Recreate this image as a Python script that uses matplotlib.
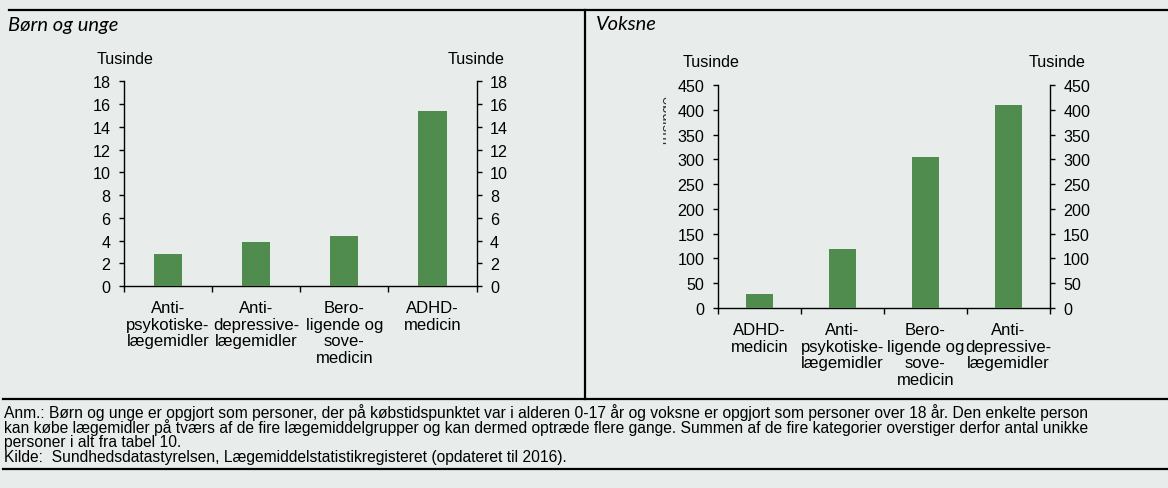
"""Personer der køber psykofarmaka, børn og unge vs. voksne (tusinde)."""

import matplotlib

matplotlib.use("Agg")
import matplotlib.pyplot as plt
from matplotlib.lines import Line2D
from matplotlib.transforms import Bbox, TransformedBbox

plt.rcParams["font.family"] = ["Liberation Sans", "DejaVu Sans"]

W, H = 1168, 489
BG = "#e8edeb"
BAR = "#508c4e"

BORN_LABELS = [
    "Anti-\npsykotiske-\nlægemidler",
    "Anti-\ndepressive-\nlægemidler",
    "Bero-\nligende og\nsove-\nmedicin",
    "ADHD-\nmedicin",
]
BORN_VALUES = [2.85, 3.85, 4.4, 15.4]
BORN_TICKS = [0, 2, 4, 6, 8, 10, 12, 14, 16, 18]

VOKSNE_LABELS = [
    "ADHD-\nmedicin",
    "Anti-\npsykotiske-\nlægemidler",
    "Bero-\nligende og\nsove-\nmedicin",
    "Anti-\ndepressive-\nlægemidler",
]
VOKSNE_VALUES = [29, 120, 305, 410]
VOKSNE_TICKS = [0, 50, 100, 150, 200, 250, 300, 350, 400, 450]

FOOTNOTE = [
    "Anm.: Børn og unge er opgjort som personer, der på købstidspunktet var i alderen "
    "0-17 år og voksne er opgjort som personer over 18 år. Den enkelte person",
    "kan købe lægemidler på tværs af de fire lægemiddelgrupper og kan dermed optræde "
    "flere gange. Summen af de fire kategorier overstiger derfor antal unikke",
    "personer i alt fra tabel 10.",
    "Kilde:  Sundhedsdatastyrelsen, Lægemiddelstatistikregisteret (opdateret til 2016).",
]

FS = 11.6


def fx(x):
    return x / W


def fy(y):
    return 1 - y / H


def panel(fig, box, labels, values, ticks):
    x0, y0, x1, y1 = box
    ax = fig.add_axes([fx(x0), fy(y1), fx(x1) - fx(x0), fy(y0) - fy(y1)])
    ax.set_facecolor("none")
    pos = range(len(values))
    ax.bar(pos, values, width=0.32, color=BAR, zorder=3)
    ax.set_xlim(-0.5, len(values) - 0.5)
    ax.set_ylim(ticks[0], ticks[-1])
    ax.set_yticks(ticks)
    ax.set_xticks([i - 0.5 for i in range(len(values) + 1)])
    ax.set_xticklabels([])
    ax.set_xticks(list(pos), labels, minor=True)
    ax.tick_params(axis="x", which="minor", length=0, pad=10, labelsize=12)
    ax.tick_params(axis="x", which="major", length=4.5, width=1, direction="out")
    ax.tick_params(axis="y", left=True, right=True, labelleft=True, labelright=True,
                   length=3.5, width=1, pad=6, labelsize=FS, direction="out")
    for lab in ax.get_xticklabels(minor=True):
        lab.set_linespacing(1.15)
    ax.spines["top"].set_visible(False)
    for s in ("left", "right", "bottom"):
        ax.spines[s].set_linewidth(1.0)
    return ax


fig = plt.figure(figsize=(W / 100, H / 100), dpi=100, facecolor=BG)

panel(fig, (123.7, 82.3, 476.7, 287), BORN_LABELS, BORN_VALUES, BORN_TICKS)
panel(fig, (717.7, 86, 1050, 309), VOKSNE_LABELS, VOKSNE_VALUES, VOKSNE_TICKS)

# enhedstekster over akserne
for x, y in [(124.7, 59), (475.9, 59), (711.5, 62.3), (1057.5, 62.3)]:
    fig.text(fx(x), fy(y), "Tusinde", ha="center", va="center", fontsize=FS)

# rester af en skjult akseetiket i højre panel
ghost = fig.text(fx(668), fy(121), "Tusinde", rotation=90, ha="center",
                 va="center", fontsize=10.5, color="#333333")
ghost.set_clip_box(TransformedBbox(Bbox([[fx(662.5), fy(150)], [fx(666), fy(92)]]),
                                   fig.transFigure))

title_font = dict(fontsize=14.5, style="italic", family=["Lato", "DejaVu Sans"],
                  va="center", ha="left")
fig.text(fx(8), fy(25), "Børn og unge", **title_font)
fig.text(fx(596), fy(25), "Voksne", **title_font)

# rammelinjer
for xs, ys in [((9, W), (11, 11)), ((585, 585), (11, 400)),
               ((3, W), (400, 400)), ((3, W), (470, 470))]:
    fig.add_artist(Line2D([fx(v) for v in xs], [fy(v) for v in ys],
                          transform=fig.transFigure, color="black", lw=1.6))

# fodnote, skaleret så første linje fylder samme bredde som i originalen
notes = [fig.text(fx(4), fy(y), t, ha="left", va="center", fontsize=10.5)
         for y, t in zip([413, 428, 443, 458], FOOTNOTE)]
fig.canvas.draw()
width = notes[0].get_window_extent().width
for t in notes:
    t.set_fontsize(10.5 * 0.98 * (1118 - 4) / width)

fig.savefig("out.png", dpi=100, facecolor=BG)
